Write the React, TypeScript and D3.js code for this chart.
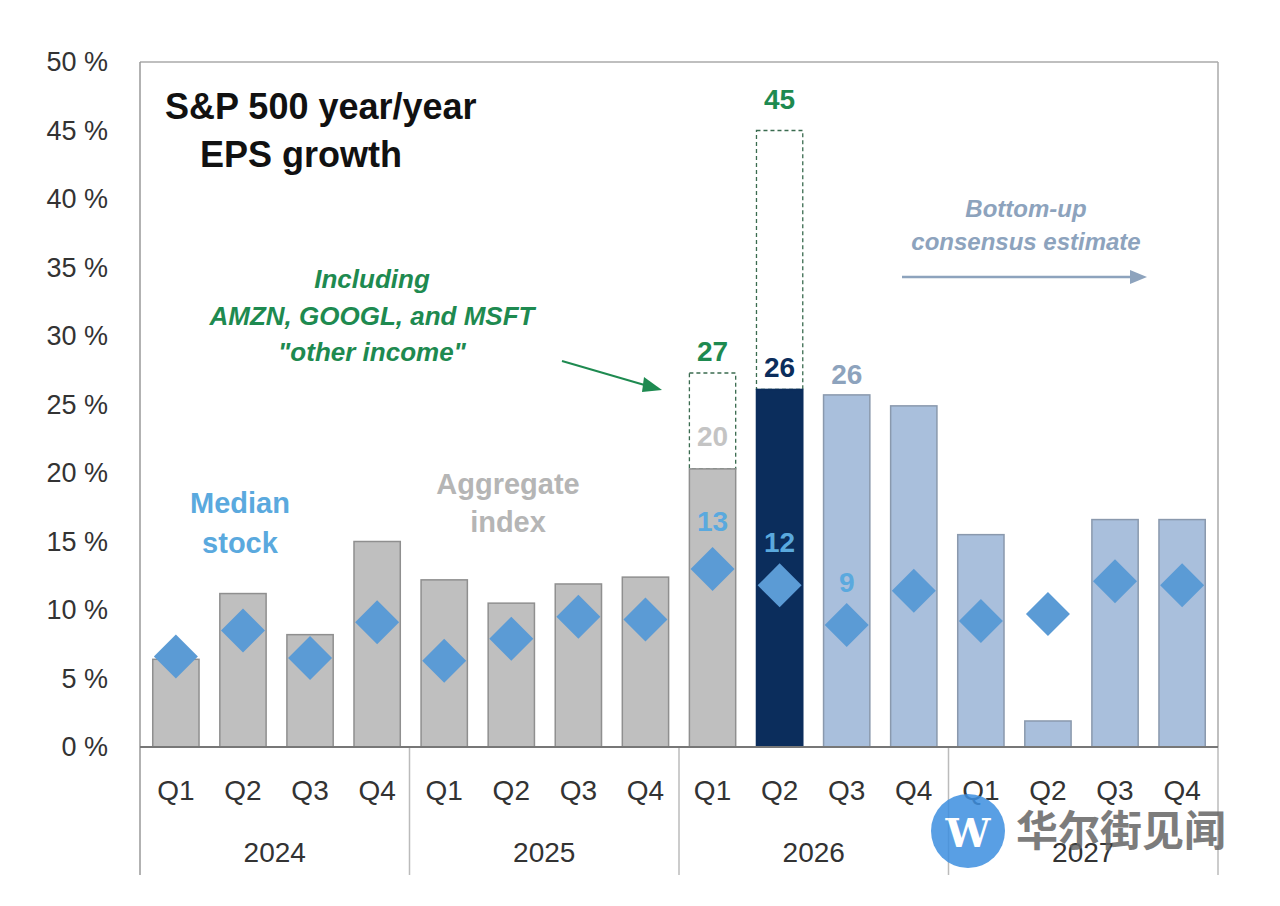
import React from "react";
import * as d3 from "d3";

const years = ["2024", "2025", "2026", "2027"];
const quarters = ["Q1", "Q2", "Q3", "Q4"];
const aggregate = [6.4, 11.2, 8.2, 15.0, 12.2, 10.5, 11.9, 12.4, 20.3, 26.1, 25.7, 24.9, 15.5, 1.9, 16.6, 16.6];
const median = [6.6, 8.5, 6.5, 9.1, 6.3, 7.9, 9.5, 9.3, 13.0, 11.8, 8.9, 11.4, 9.2, 9.7, 12.1, 11.8];
const otherIncome: (number | null)[] = [null, null, null, null, null, null, null, null, 27.3, 45.0, null, null, null, null, null, null];
const yTicks = [0, 5, 10, 15, 20, 25, 30, 35, 40, 45, 50];

export default function App() {
  const L = 140, R = 1218, T = 62, B = 747;
  const n = aggregate.length;
  const x = d3.scaleBand<number>().domain(d3.range(n)).range([L, R]).paddingInner(0.31).paddingOuter(0.19);
  const y = d3.scaleLinear().domain([0, 50]).range([B, T]);
  const fill = (i: number) => (i === 9 ? "#0b2d5c" : i >= 10 ? "#a9bfdc" : "#bfbfbf");
  const stroke = (i: number) => (i === 9 ? "#0b2d5c" : i >= 10 ? "#8a99ad" : "#8f8f8f");
  const groupW = (R - L) / 4;
  const font = "Arial, 'Liberation Sans', sans-serif";
  const cx = (i: number) => (x(i) as number) + x.bandwidth() / 2;
  return (
    <svg width={1280} height={906} style={{ display: "block", position: "absolute", left: 0, top: 0, fontFamily: font }}>
      <rect x={0} y={0} width={1280} height={906} fill="#fff" />
      {yTicks.map(t => (
        <text key={t} x={108} y={y(t)} dy="0.35em" textAnchor="end" fontSize={27} fill="#333">{t} %</text>
      ))}
      <line x1={L} x2={R} y1={T} y2={T} stroke="#aaa" strokeWidth={1.5} />
      <line x1={R} x2={R} y1={T} y2={B} stroke="#aaa" strokeWidth={1.5} />
      <line x1={L} x2={L} y1={T} y2={875} stroke="#999" strokeWidth={1.5} />
      {d3.range(1, 5).map(k => (
        <line key={k} x1={L + k * groupW} x2={L + k * groupW} y1={B} y2={875} stroke="#bbb" strokeWidth={1.5} />
      ))}
      {otherIncome.map((v, i) => v == null ? null : (
        <rect key={"o" + i} x={x(i)} y={y(v)} width={x.bandwidth()} height={y(aggregate[i]) - y(v)} fill="#fff" stroke="#3a6b4f" strokeWidth={1.3} strokeDasharray="4,3" />
      ))}
      {aggregate.map((v, i) => (
        <rect key={i} x={x(i)} y={y(v)} width={x.bandwidth()} height={B - y(v)} fill={fill(i)} stroke={stroke(i)} strokeWidth={1.5} />
      ))}
      <line x1={L} x2={R} y1={B} y2={B} stroke="#777" strokeWidth={2} />
      {median.map((v, i) => {
        const s = 22;
        return <path key={"m" + i} d={`M${cx(i)},${y(v) - s}L${cx(i) + s},${y(v)}L${cx(i)},${y(v) + s}L${cx(i) - s},${y(v)}Z`} fill="#5b9bd5" />;
      })}
      {aggregate.map((_, i) => (
        <text key={"q" + i} x={cx(i)} y={790} dy="0.35em" textAnchor="middle" fontSize={28} fill="#333">{quarters[i % 4]}</text>
      ))}
      {years.map((yr, k) => (
        <text key={yr} x={L + (k + 0.5) * groupW} y={852} dy="0.35em" textAnchor="middle" fontSize={28} fill="#333">{yr}</text>
      ))}
      <text x={165} y={106} dy="0.35em" fontSize={36} fontWeight="bold" fill="#111">S&amp;P 500 year/year</text>
      <text x={200} y={154} dy="0.35em" fontSize={36} fontWeight="bold" fill="#111">EPS growth</text>
      <text x={240} y={503} dy="0.35em" textAnchor="middle" fontSize={29} fontWeight="bold" fill="#5aa9de">Median</text>
      <text x={240} y={543} dy="0.35em" textAnchor="middle" fontSize={29} fontWeight="bold" fill="#5aa9de">stock</text>
      <text x={508} y={484} dy="0.35em" textAnchor="middle" fontSize={29} fontWeight="bold" fill="#b5b5b5">Aggregate</text>
      <text x={508} y={522} dy="0.35em" textAnchor="middle" fontSize={29} fontWeight="bold" fill="#b5b5b5">index</text>
      <g fontSize={26} fontWeight="bold" fontStyle="italic" fill="#1e8a50" textAnchor="middle">
        <text x={372} y={279} dy="0.35em">Including</text>
        <text x={372} y={316} dy="0.35em">AMZN, GOOGL, and MSFT</text>
        <text x={372} y={352} dy="0.35em">"other income"</text>
      </g>
      <line x1={562} y1={361} x2={648} y2={386} stroke="#1e8a50" strokeWidth={2} />
      <path d="M662,390 L644,377 L642,392 Z" fill="#1e8a50" />
      <g fontSize={24} fontStyle="italic" fontWeight="bold" fill="#8da3bd" textAnchor="middle">
        <text x={1026} y={209} dy="0.35em">Bottom-up</text>
        <text x={1026} y={242} dy="0.35em">consensus  estimate</text>
      </g>
      <line x1={902} y1={277} x2={1132} y2={277} stroke="#8da3bd" strokeWidth={2.5} />
      <path d="M1147,277 L1130,270 L1130,284 Z" fill="#8da3bd" />
      <g fontSize={28} fontWeight="bold" textAnchor="middle">
        <text x={cx(8)} y={351} dy="0.35em" fill="#1e8a50">27</text>
        <text x={cx(9)} y={99} dy="0.35em" fill="#1e8a50">45</text>
        <text x={cx(9)} y={367} dy="0.35em" fill="#0b2d5c">26</text>
        <text x={cx(10)} y={374} dy="0.35em" fill="#8da3bd">26</text>
        <text x={cx(8)} y={436} dy="0.35em" fill="#c4c4c4">20</text>
        <text x={cx(8)} y={521} dy="0.35em" fill="#5aa9de">13</text>
        <text x={cx(9)} y={542} dy="0.35em" fill="#5aa9de">12</text>
        <text x={cx(10)} y={582} dy="0.35em" fill="#5aa9de">9</text>
      </g>
      <g opacity={0.85}>
        <circle cx={968} cy={831} r={37} fill="#3d8fe0" />
        <text x={968} y={833} dy="0.35em" textAnchor="middle" fontSize={40} fontWeight="bold" fill="#fff" fontFamily="'DejaVu Serif', serif">W</text>
        <text x={1016} y={831} dy="0.35em" fontSize={42} fontWeight="bold" fill="#666" fontFamily="'Noto Sans CJK SC', sans-serif">华尔街见闻</text>
      </g>
    </svg>
  );
}
